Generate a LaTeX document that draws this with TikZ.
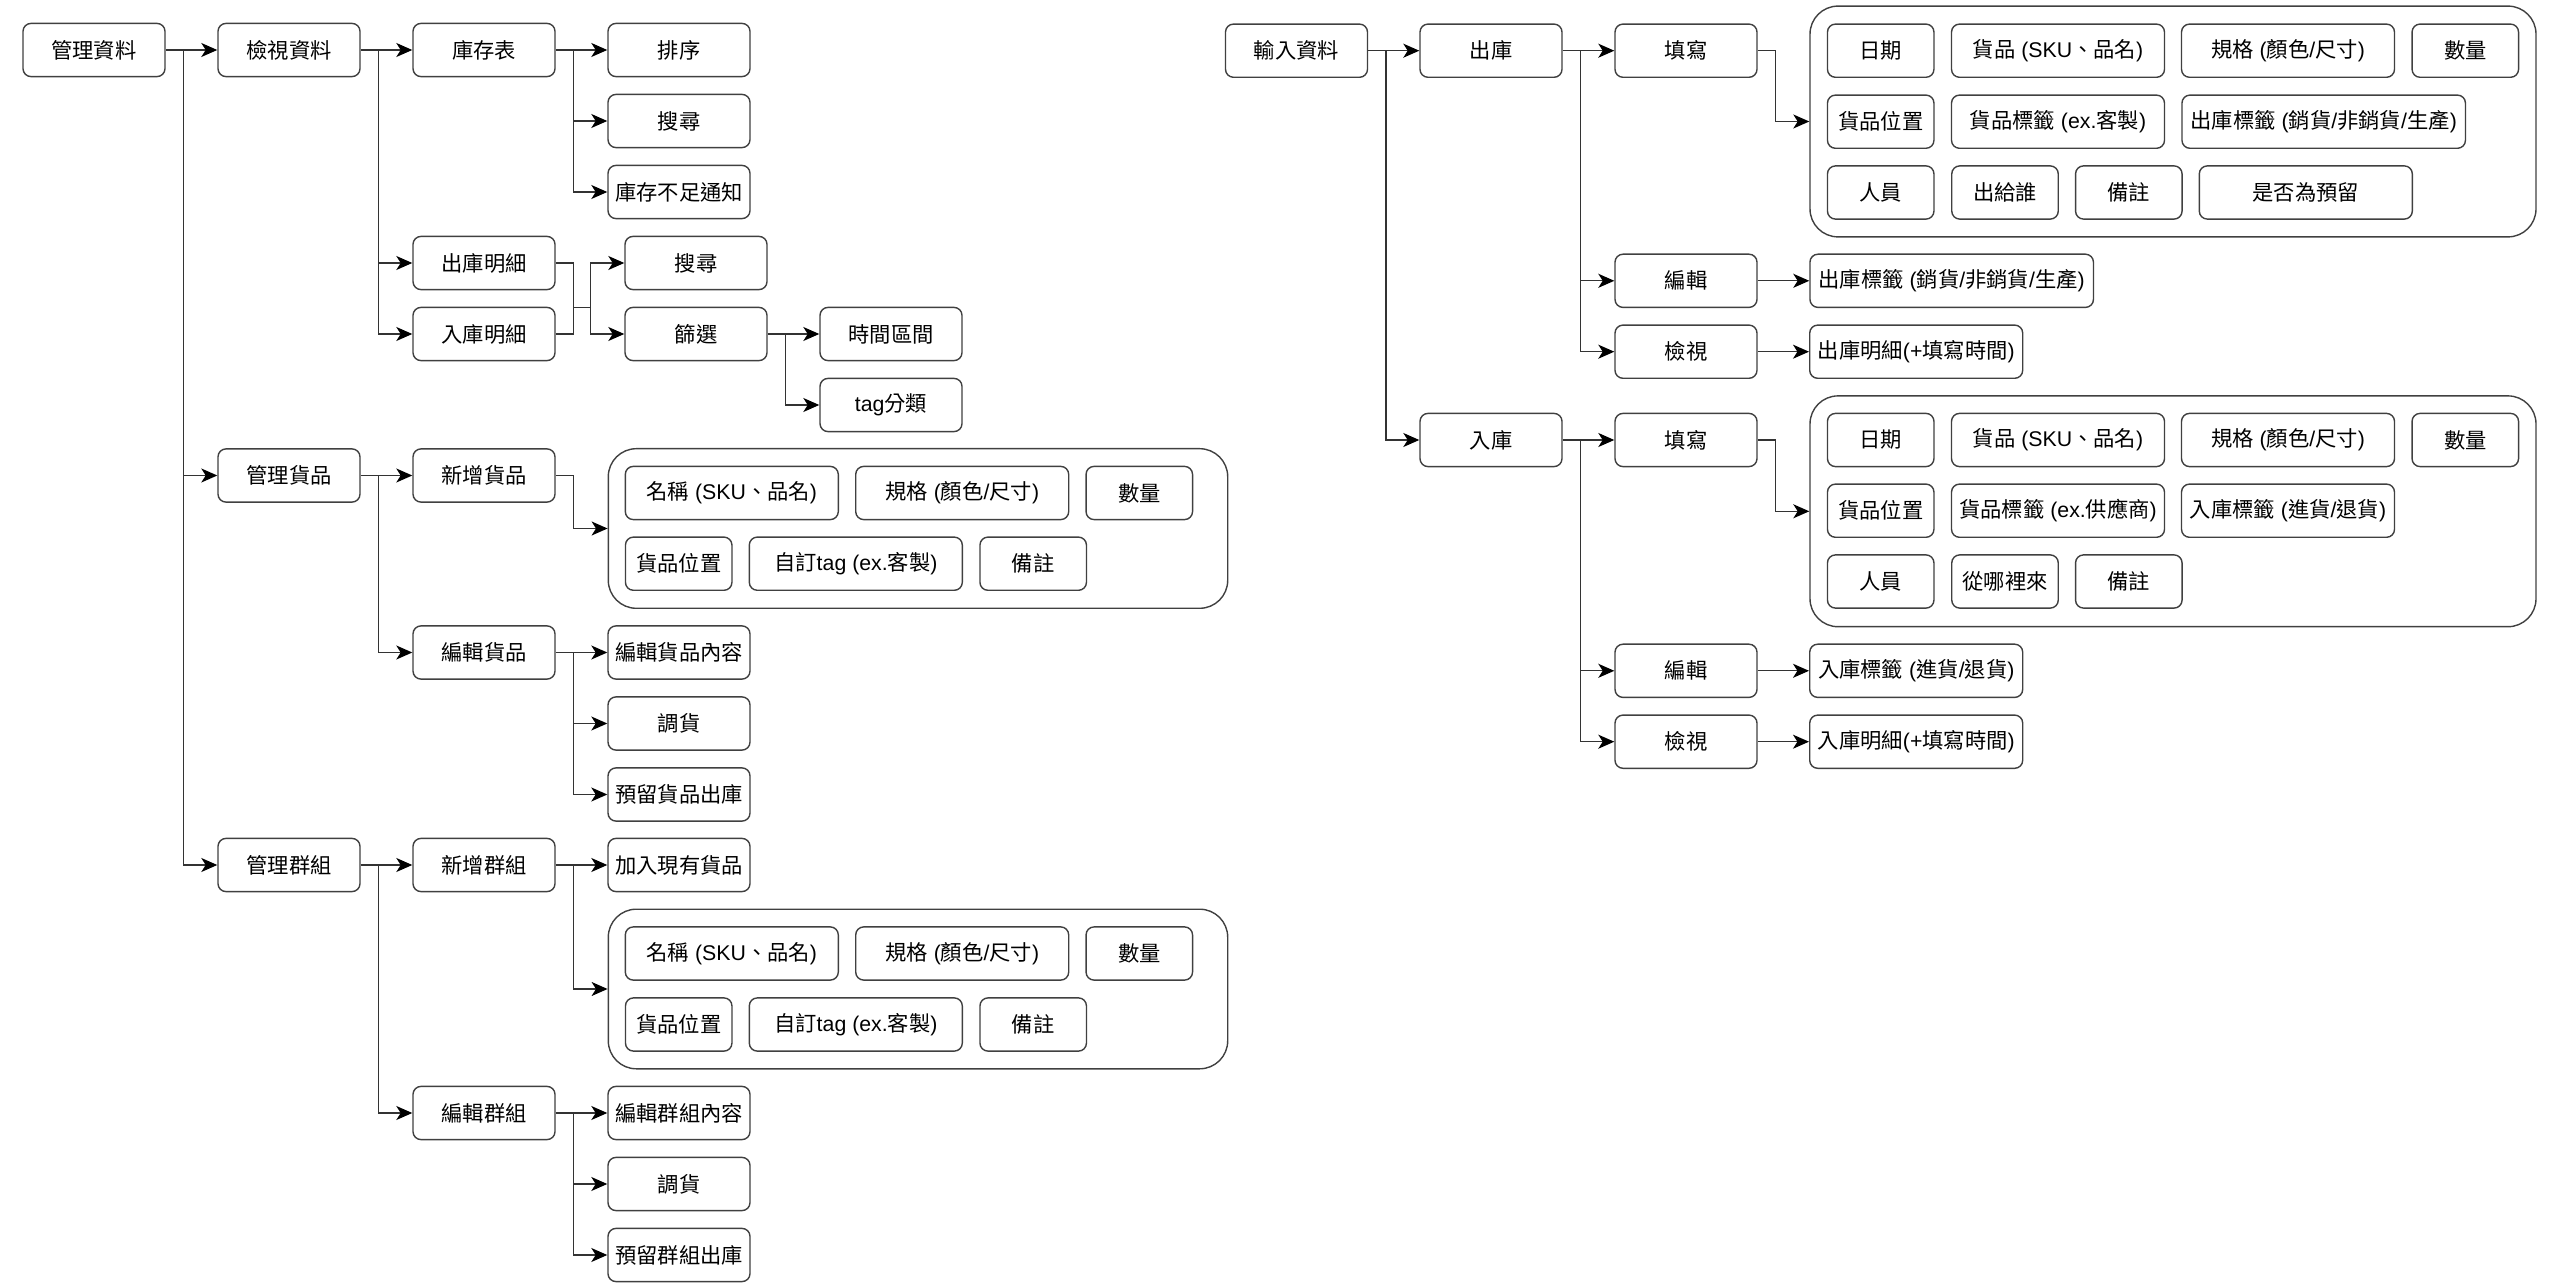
\documentclass[tikz,border=0pt]{standalone}
\usepackage{fontspec}
\setmainfont{Noto Sans CJK TC}
\newfontfamily\lat{Liberation Sans}
\newcommand\La[1]{{\lat#1}}
\usetikzlibrary{arrows.meta}
\tikzset{
  every node/.style={font=\fontsize{10.65pt}{12pt}\selectfont},
  box/.style={draw=black!75, line width=0.7pt, rounded corners=4pt, inner sep=0pt,
    minimum width=71pt, minimum height=26.6pt, fill=white},
  sbox/.style={box, minimum width=53.25pt},
  lbox/.style={box, minimum width=106.5pt},
  xbox/.style={box, minimum width=141.75pt},
  cont/.style={draw=black!75, line width=0.7pt, rounded corners=14pt, inner sep=0pt},
  ln/.style={draw=black!80, line width=0.7pt},
  arr/.style={ln, -{Stealth[length=8pt,width=7pt,inset=2.2pt,color=black]}},
}
\begin{document}
\begin{tikzpicture}[x=0.5pt,y=-0.5pt]
\useasboundingbox (0,0) rectangle (2560,1288);
% ---------------- left tree ----------------
\node[box] (A) at (94,50) {管理資料};
\node[box] (B1) at (289,50) {檢視資料};
\node[box] (B2) at (289,475.5) {管理貨品};
\node[box] (B3) at (289,865) {管理群組};
\node[box] (C) at (484,50) {庫存表};
\node[box] (C2) at (484,263) {出庫明細};
\node[box] (C3) at (484,334) {入庫明細};
\node[box] (D1) at (679,50) {排序};
\node[box] (D2) at (679,121) {搜尋};
\node[box] (D3) at (679,192) {庫存不足通知};
\node[box] (E1) at (696,263) {搜尋};
\node[box] (E2) at (696,334) {篩選};
\node[box] (F1) at (891,334) {時間區間};
\node[box] (F2) at (891,405) {\La{tag}分類};
\node[box] (G1) at (484,475.5) {新增貨品};
\node[box] (G2) at (484,652.5) {編輯貨品};
\node[box] (H1) at (679,652.5) {編輯貨品內容};
\node[box] (H2) at (679,723.5) {調貨};
\node[box] (H3) at (679,794.5) {預留貨品出庫};
\node[box] (I1) at (484,865) {新增群組};
\node[box] (I2) at (484,1113) {編輯群組};
\node[box] (J1) at (679,865) {加入現有貨品};
\node[box] (J2) at (679,1113) {編輯群組內容};
\node[box] (J3) at (679,1184) {調貨};
\node[box] (J4) at (679,1255) {預留群組出庫};
% container K1
\node[cont, minimum width=309.7pt, minimum height=79.8pt] (K1) at (918,528.5) {};
\node[lbox] (K1a) at (731.8,493) {名稱\La{\ (SKU}、品名\La{)}};
\node[lbox] (K1b) at (962.2,493) {規格\La{\ (}顏色\La{/}尺寸\La{)}};
\node[sbox] (K1c) at (1139.3,493) {數量};
\node[sbox] (K1d) at (678.7,563.7) {貨品位置};
\node[lbox] (K1e) at (855.8,563.7) {自訂\La{tag (ex.}客製\La{)}};
\node[sbox] (K1f) at (1033.2,563.7) {備註};
% container K2
\node[cont, minimum width=309.7pt, minimum height=79.8pt] (K2) at (918,989) {};
\node[lbox] (K2a) at (731.8,953.5) {名稱\La{\ (SKU}、品名\La{)}};
\node[lbox] (K2b) at (962.2,953.5) {規格\La{\ (}顏色\La{/}尺寸\La{)}};
\node[sbox] (K2c) at (1139.3,953.5) {數量};
\node[sbox] (K2d) at (678.7,1024.5) {貨品位置};
\node[lbox] (K2e) at (855.8,1024.5) {自訂\La{tag (ex.}客製\La{)}};
\node[sbox] (K2f) at (1033.2,1024.5) {備註};
% connectors left
\draw[arr] (A.east) -- (B1.west);
\draw[arr] (A.east) ++(17.7,0) |- (B2.west);
\draw[arr] (A.east) ++(17.7,0) |- (B3.west);
\draw[arr] (B1.east) -- (C.west);
\draw[arr] (B1.east) ++(17.7,0) |- (C2.west);
\draw[arr] (B1.east) ++(17.7,0) |- (C3.west);
\draw[arr] (C.east) -- (D1.west);
\draw[arr] (C.east) ++(17.7,0) |- (D2.west);
\draw[arr] (C.east) ++(17.7,0) |- (D3.west);
\coordinate (m) at (590.7,307.3);
\draw[ln] (C2.east) -- ++(17.7,0) |- (m);
\draw[ln] (C3.east) -- ++(17.7,0) |- (m);
\draw[arr] (m) |- (E1.west);
\draw[arr] (m) |- (E2.west);
\draw[arr] (E2.east) -- (F1.west);
\draw[arr] (E2.east) ++(17.7,0) |- (F2.west);
\draw[arr] (B2.east) -- (G1.west);
\draw[arr] (B2.east) ++(17.7,0) |- (G2.west);
\draw[arr] (G1.east) -- ++(17.7,0) |- (K1.west);
\draw[arr] (G2.east) -- (H1.west);
\draw[arr] (G2.east) ++(17.7,0) |- (H2.west);
\draw[arr] (G2.east) ++(17.7,0) |- (H3.west);
\draw[arr] (B3.east) -- (I1.west);
\draw[arr] (B3.east) ++(17.7,0) |- (I2.west);
\draw[arr] (I1.east) -- (J1.west);
\draw[arr] (I1.east) ++(17.7,0) |- (K2.west);
\draw[arr] (I2.east) -- (J2.west);
\draw[arr] (I2.east) ++(17.7,0) |- (J3.west);
\draw[arr] (I2.east) ++(17.7,0) |- (J4.west);
% ---------------- right tree ----------------
\node[box] (R) at (1296.5,50.7) {輸入資料};
\node[box] (S1) at (1491,50.7) {出庫};
\node[box] (S2) at (1491,440) {入庫};
\node[box] (T1) at (1686,50.7) {填寫};
\node[box] (T2) at (1686,280.8) {編輯};
\node[box] (T3) at (1686,351.7) {檢視};
\node[box] (T4) at (1686,440) {填寫};
\node[box] (T5) at (1686,670.8) {編輯};
\node[box] (T6) at (1686,741.7) {檢視};
\node[xbox] (U1) at (1951.7,280.8) {出庫標籤\La{\ (}銷貨\La{/}非銷貨\La{/}生產\La{)}};
\node[lbox] (U2) at (1916.2,351.7) {出庫明細\La{(+}填寫時間\La{)}};
\node[lbox] (U3) at (1916.2,670.8) {入庫標籤\La{\ (}進貨\La{/}退貨\La{)}};
\node[lbox] (U4) at (1916.2,741.7) {入庫明細\La{(+}填寫時間\La{)}};
% container M1
\node[cont, minimum width=363pt, minimum height=115.4pt] (M1) at (2173,121.5) {};
\node[sbox] (M1a) at (1880.7,50.7) {日期};
\node[lbox] (M1b) at (2058,50.7) {貨品\La{\ (SKU}、品名\La{)}};
\node[lbox] (M1c) at (2288,50.7) {規格\La{\ (}顏色\La{/}尺寸\La{)}};
\node[sbox] (M1d) at (2465.3,50.7) {數量};
\node[sbox] (M1e) at (1880.7,121.7) {貨品位置};
\node[lbox] (M1f) at (2058,121.7) {貨品標籤\La{\ (ex.}客製\La{)}};
\node[xbox] (M1g) at (2323.7,121.7) {出庫標籤\La{\ (}銷貨\La{/}非銷貨\La{/}生產\La{)}};
\node[sbox] (M1h) at (1880.7,192.5) {人員};
\node[sbox] (M1i) at (2005,192.5) {出給誰};
\node[sbox] (M1j) at (2128.8,192.5) {備註};
\node[lbox] (M1k) at (2305.8,192.5) {是否為預留};
% container M2
\node[cont, minimum width=363pt, minimum height=115.4pt] (M2) at (2173,511.3) {};
\node[sbox] (M2a) at (1880.7,440) {日期};
\node[lbox] (M2b) at (2058,440) {貨品\La{\ (SKU}、品名\La{)}};
\node[lbox] (M2c) at (2288,440) {規格\La{\ (}顏色\La{/}尺寸\La{)}};
\node[sbox] (M2d) at (2465.3,440) {數量};
\node[sbox] (M2e) at (1880.7,510.7) {貨品位置};
\node[lbox] (M2f) at (2058,510.7) {貨品標籤\La{\ (ex.}供應商\La{)}};
\node[lbox] (M2g) at (2288,510.7) {入庫標籤\La{\ (}進貨\La{/}退貨\La{)}};
\node[sbox] (M2h) at (1880.7,581.5) {人員};
\node[sbox] (M2i) at (2005,581.5) {從哪裡來};
\node[sbox] (M2j) at (2128.8,581.5) {備註};
% connectors right
\draw[arr] (R.east) -- (S1.west);
\draw[arr] (R.east) ++(17.7,0) |- (S2.west);
\draw[arr] (S1.east) -- (T1.west);
\draw[arr] (S1.east) ++(17.7,0) |- (T2.west);
\draw[arr] (S1.east) ++(17.7,0) |- (T3.west);
\draw[arr] (T1.east) -- ++(17.7,0) |- (M1.west);
\draw[arr] (T2.east) -- (U1.west);
\draw[arr] (T3.east) -- (U2.west);
\draw[arr] (S2.east) -- (T4.west);
\draw[arr] (S2.east) ++(17.7,0) |- (T5.west);
\draw[arr] (S2.east) ++(17.7,0) |- (T6.west);
\draw[arr] (T4.east) -- ++(17.7,0) |- (M2.west);
\draw[arr] (T5.east) -- (U3.west);
\draw[arr] (T6.east) -- (U4.west);
\end{tikzpicture}
\end{document}
